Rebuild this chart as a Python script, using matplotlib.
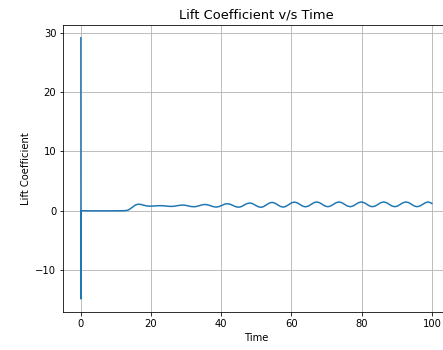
import numpy as np
import matplotlib
matplotlib.use("Agg")
import matplotlib.pyplot as plt

# Start-up transient: impulsive spike at t=0, then a quiet phase and the onset of shedding
early_time = [0.0, 0.03, 0.1, 1.0, 5.0, 10.0, 12.5, 13.5, 14.5, 15.5]
early_lift = [29.2, -14.9, 0.0, -0.02, -0.02, -0.02, 0.0, 0.1, 0.5, 0.95]

# Periodic vortex-shedding phase, sampled at a fixed time step
osc_start = 16.3
osc_step = 0.795
osc_lift = [
    1.10, 1.050, 0.93, 0.81, 0.76, 0.773, 0.805, 0.837,
    0.85, 0.831, 0.785, 0.739, 0.72, 0.754, 0.835, 0.916,
    0.95, 0.908, 0.805, 0.702, 0.66, 0.717, 0.855, 0.993,
    1.05, 0.986, 0.83, 0.674, 0.61, 0.693, 0.895, 1.097,
    1.18, 1.092, 0.88, 0.668, 0.58, 0.685, 0.94, 1.195,
    1.30, 1.193, 0.935, 0.677, 0.57, 0.691, 0.985, 1.279,
    1.40, 1.283, 1.00, 0.717, 0.60, 0.724, 1.025, 1.326,
    1.45, 1.333, 1.05, 0.767, 0.65, 0.770, 1.06, 1.350,
    1.47, 1.353, 1.07, 0.787, 0.67, 0.787, 1.07, 1.353,
    1.47, 1.353, 1.07, 0.787, 0.67, 0.787, 1.07, 1.353,
    1.47, 1.353, 1.07, 0.787, 0.67, 0.787, 1.07, 1.353,
    1.47, 1.353, 1.07, 0.787, 0.67, 0.787, 1.07, 1.353,
    1.47, 1.353, 1.07, 0.787, 0.67, 0.787, 1.07, 1.353,
    1.47, 1.30,
]
end_time = 100.0
end_lift = 1.2

osc_time = osc_start + osc_step * np.arange(len(osc_lift))
time = np.concatenate([early_time, osc_time, [end_time]])
lift = np.concatenate([early_lift, osc_lift, [end_lift]])

fig = plt.figure(figsize=(443 / 72, 350 / 72), dpi=72)
ax = fig.add_axes([0.1429, 0.1086, 0.8716, 0.8209])
ax.plot(time, lift, color="#1f77b4", linewidth=1.5)
ax.grid(True)
ax.set_title("Lift Coefficient v/s Time", fontsize=13)
ax.set_xlabel("Time")
ax.set_ylabel("Lift Coefficient")

fig.savefig("out.png", dpi=72)
